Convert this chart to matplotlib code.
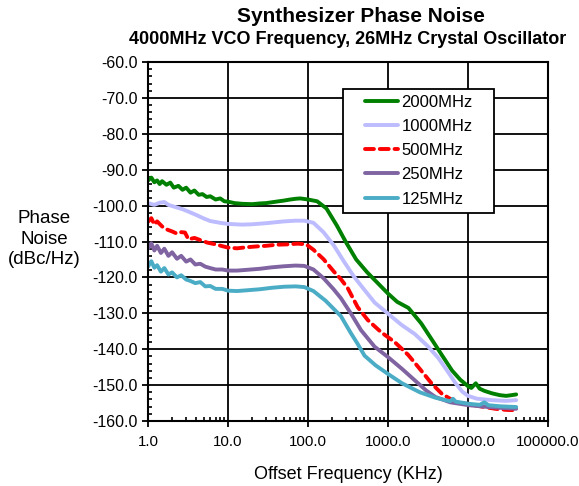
import numpy as np
import matplotlib.pyplot as plt
from matplotlib.ticker import FixedLocator, FormatStrFormatter, LogLocator, NullFormatter

plt.rcParams['font.family'] = ['Liberation Sans', 'DejaVu Sans']

# 2000MHz
f_2000 = [1, 1.1, 1.2, 1.3, 1.4, 1.5, 1.7, 1.9, 2.1, 2.4, 2.7, 3.0, 3.4, 3.8, 4.3, 4.8, 5.4, 6, 7, 8, 9,
          10, 12, 15, 20, 25, 30, 40, 50, 60, 70, 80, 100, 130, 170, 230, 300, 400, 550, 800, 1000, 1300,
          1800, 2600, 3900, 4700, 6300, 8000, 10000, 11000, 12500, 14000, 16000, 20000, 25000, 30000,
          35000, 40000]
pn_2000 = [-93.0, -92.2, -93.5, -93.0, -94.0, -93.2, -94.2, -93.6, -95.0, -94.5, -95.6, -95.0, -96.4,
           -95.8, -97.0, -96.8, -97.6, -97.4, -98.3, -98.0, -98.8, -98.9, -99.3, -99.5, -99.6, -99.4,
           -99.3, -98.9, -98.6, -98.3, -98.1, -98.0, -98.3, -98.8, -100.8, -105.6, -110.3, -115.0,
           -118.6, -122.3, -124.5, -126.8, -128.5, -132.8, -138.8, -141.6, -145.9, -148.5, -150.3,
           -150.8, -149.5, -151.0, -151.6, -152.3, -152.8, -153.0, -152.8, -152.6]

# 1000MHz
f_1000 = [1, 1.2, 1.4, 1.6, 1.8, 2.2, 2.7, 3.3, 4, 5, 6, 8, 10, 15, 20, 30, 50, 70, 90, 117, 156, 209,
          280, 373, 500, 680, 1000, 1470, 2170, 3190, 4270, 5500, 7000, 8460, 10000, 13000, 20000,
          30000, 40000]
pn_1000 = [-99.3, -99.8, -99.2, -99.0, -99.8, -100.4, -101.0, -101.8, -102.6, -103.6, -104.3, -104.8,
           -105.1, -105.3, -105.2, -104.9, -104.4, -104.2, -104.2, -104.8, -107.4, -111.0, -115.5,
           -119.7, -123.3, -127.0, -130.1, -133.2, -135.8, -139.3, -142.5, -146.0, -149.5, -151.8,
           -153.0, -153.8, -154.2, -154.4, -154.2]

# 500MHz
f_500 = [1, 1.1, 1.2, 1.3, 1.5, 1.7, 2.0, 2.3, 2.6, 2.9, 3.2, 3.8, 4.5, 5.5, 7, 8.5, 10, 13, 17, 22, 30,
         40, 55, 75, 95, 117, 156, 209, 258, 314, 418, 560, 824, 1210, 1790, 2500, 3500, 4700, 6500,
         8000, 10200, 15000, 22000, 30000, 40000]
pn_500 = [-104.5, -103.5, -105.3, -104.4, -105.8, -106.6, -107.2, -107.8, -107.4, -107.5, -109.4,
          -109.0, -109.6, -110.3, -110.8, -111.3, -111.7, -111.9, -111.6, -111.4, -111.2, -110.9,
          -110.8, -110.6, -110.8, -112.3, -114.9, -118.3, -120.5, -123.0, -128.3, -131.9, -135.3,
          -138.0, -141.6, -145.5, -149.5, -152.4, -154.3, -155.0, -155.3, -156.0, -156.6, -156.9,
          -157.0]

# 250MHz
f_250 = [1, 1.1, 1.2, 1.3, 1.45, 1.6, 1.8, 2.0, 2.3, 2.6, 3.0, 3.4, 3.9, 4.5, 5.2, 6, 7, 8.5, 10, 13,
         17, 25, 35, 50, 70, 90, 117, 156, 209, 258, 345, 460, 680, 1000, 1500, 2170, 3000, 3900,
         6000, 10200, 20000, 40000]
pn_250 = [-112.0, -110.5, -112.5, -111.2, -113.2, -112.0, -114.0, -113.0, -114.8, -114.0, -115.6,
          -115.0, -116.4, -116.2, -117.0, -117.4, -117.8, -117.8, -118.1, -118.1, -117.9, -117.6,
          -117.2, -116.9, -116.7, -116.8, -117.8, -120.2, -123.3, -125.8, -130.1, -134.7, -139.3,
          -142.2, -145.5, -148.7, -151.5, -153.3, -154.8, -155.6, -156.2, -156.6]

# 125MHz
f_125 = [1, 1.1, 1.2, 1.3, 1.45, 1.6, 1.8, 2.0, 2.3, 2.6, 3.0, 3.4, 3.9, 4.5, 5.2, 6, 7, 8.5, 10, 13,
         17, 25, 35, 50, 70, 90, 117, 166, 258, 345, 417, 509, 700, 1000, 1500, 2500, 3900, 6000,
         6500, 7000, 10200, 14000, 16000, 18000, 25000, 40000]
pn_125 = [-117.0, -115.5, -117.3, -116.6, -118.4, -117.4, -119.2, -118.6, -120.0, -119.4, -120.6,
          -121.0, -121.6, -121.3, -122.5, -122.4, -123.2, -123.2, -123.7, -123.8, -123.6, -123.3,
          -122.9, -122.6, -122.5, -122.7, -123.8, -126.5, -130.8, -135.6, -138.5, -141.8, -144.5,
          -146.9, -149.5, -152.0, -153.5, -154.5, -153.8, -154.6, -155.2, -155.5, -154.8, -155.6,
          -155.9, -156.1]

fig = plt.figure(figsize=(5.79, 4.86), dpi=100)
ax = fig.add_axes([148 / 579, 65 / 486, 400 / 579, 359 / 486])

lw = 2.8
ax.plot(f_2000, pn_2000, color='#008000', lw=lw, label='2000MHz', solid_capstyle='round')
ax.plot(f_1000, pn_1000, color='#bcbcff', lw=lw, label='1000MHz', solid_capstyle='round')
ax.plot(f_500, pn_500, color='#ff0000', lw=lw, label='500MHz', linestyle=(0, (2.3, 1.5)),
        dash_capstyle='round')
ax.plot(f_250, pn_250, color='#8064a2', lw=lw, label='250MHz', solid_capstyle='round')
ax.plot(f_125, pn_125, color='#4bacc6', lw=lw, label='125MHz', solid_capstyle='round')

ax.set_xscale('log')
ax.set_xlim(1, 100000)
ax.set_ylim(-160, -60)
ax.xaxis.set_major_locator(FixedLocator([1, 10, 100, 1000, 10000, 100000]))
ax.xaxis.set_major_formatter(FormatStrFormatter('%.1f'))
ax.xaxis.set_minor_locator(LogLocator(base=10, subs=np.arange(2, 10)))
ax.xaxis.set_minor_formatter(NullFormatter())
ax.set_yticks(np.arange(-160, -59, 10))
ax.yaxis.set_major_formatter(FormatStrFormatter('%.1f'))
ax.set_yticks(np.arange(-160, -59, 2), minor=True)

ax.grid(True, which='major', color='black', lw=1.3)
ax.tick_params(which='major', direction='out', length=4, width=1.3, labelsize=11.5, color='black')
ax.tick_params(axis='x', which='major', pad=6, labelsize=10.8)
ax.tick_params(which='minor', direction='in', length=3, width=1.2, color='black')
for s in ax.spines.values():
    s.set_linewidth(1.5)

ax.set_xlabel('Offset Frequency (KHz)', fontsize=13, labelpad=12)
fig.text(44 / 579, 1 - 239 / 486, 'Phase\nNoise\n(dBc/Hz)', ha='center', va='center',
         fontsize=13.5, linespacing=1.3)

fig.text(361 / 579, 1 - 16 / 486, 'Synthesizer Phase Noise', ha='center', va='center',
         fontsize=15, fontweight='bold')
fig.text(348 / 579, 1 - 39 / 486, '4000MHz VCO Frequency, 26MHz Crystal Oscillator', ha='center',
         va='center', fontsize=13, fontweight='bold')

# legend: wide side padding, narrow top/bottom padding
leg = ax.legend(loc='upper left', bbox_to_anchor=((364 - 148) / 400, 1 - (94 - 62) / 359),
                borderaxespad=0, fontsize=12, frameon=True, fancybox=False, edgecolor='black',
                handlelength=2.0, handletextpad=0.2, labelspacing=0.55, borderpad=0.05,
                framealpha=1)
frame = leg.get_frame()
frame.set_linewidth(1.3)
frame.set_boxstyle('square', pad=1.25)
frame.set_mutation_aspect(0.25)

fig.savefig('out.png', dpi=100)
